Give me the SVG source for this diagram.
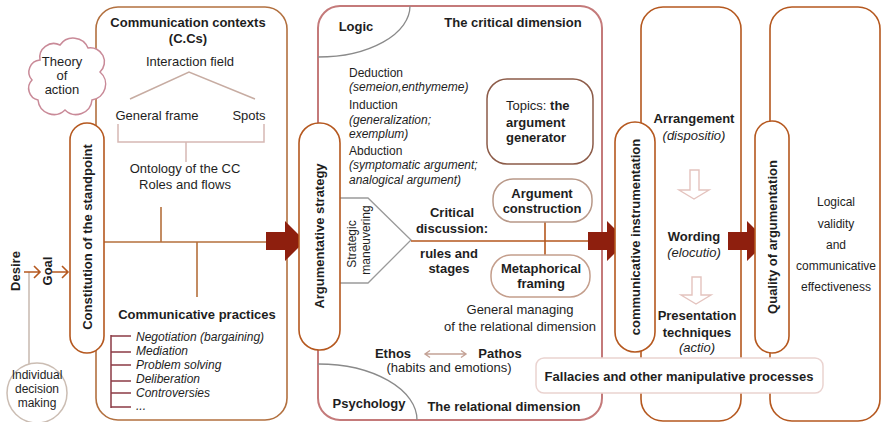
<svg xmlns="http://www.w3.org/2000/svg" width="882" height="422" viewBox="0 0 882 422">
  <style>
    text { font-family: "Liberation Sans", Arial, sans-serif; fill: #1e1e1e; font-size: 13px; }
    .b { font-weight: bold; }
    .i { font-style: italic; }
    .sm { font-size: 12px; }
    .m { text-anchor: middle; }
    .frame { fill: #fff; stroke: #b5581f; stroke-width: 1.6; }
    .pill { fill: #fff; stroke: #b5581f; stroke-width: 1.6; }
    .link { fill: none; stroke: #b5581f; stroke-width: 1.6; }
    .big { fill: #8e1f0e; }
    .hollow { fill: #fff; stroke: #e4c3be; stroke-width: 1.4; }
    .soft { fill: none; stroke: #c7aca2; stroke-width: 1.5; }
  </style>

  <!-- large column frames -->
  <g id="contexts-frame">
    <rect x="96" y="7" width="191" height="413" rx="22" fill="#fff" stroke="#b2703f" stroke-width="1.6"/>
  </g>
  <g id="critical-frame">
    <rect x="318" y="6" width="284" height="414" rx="22" fill="#fff" stroke="#c47a7a" stroke-width="2"/>
    <path d="M318,57 A92,51 0 0 0 410,6" fill="none" stroke="#8a8a8a" stroke-width="1.3"/>
    <path d="M318,364 A99,56 0 0 1 417,420" fill="none" stroke="#8a8a8a" stroke-width="1.3"/>
  </g>
  <g id="instrument-frame">
    <rect x="641" y="7" width="100" height="414" rx="22" class="frame"/>
  </g>
  <g id="quality-frame">
    <rect x="770" y="7" width="110" height="414" rx="22" class="frame"/>
  </g>

  <!-- connectors -->
  <g id="connectors">
    <!-- interaction field tree -->
    <path d="M130,99 L189,72 L255,99" class="soft"/>
    <path d="M118,124 V142 H264 V124 M186,142 V162" fill="none" stroke="#d6b8b4" stroke-width="1.5"/>
    <!-- contexts spine -->
    <path d="M104,242 H270 M161,207 V242 M197,242 V297" fill="none" stroke="#b5703c" stroke-width="1.6"/>
    <!-- practices list -->
    <path d="M111,335 V408 M111,336 H131 M111,352 H131 M111,365 H131 M111,381 H131 M111,393 H131 M111,407 H131" fill="none" stroke="#8c3b46" stroke-width="1.5"/>
    <!-- desire / goal arrows -->
    <path d="M29,272 V364" fill="none" stroke="#c7b9af" stroke-width="1.5"/>
    <path d="M24,272 H40 M34,266 L40,272 L34,278" class="link"/>
    <path d="M52,272 H68 M62,266 L68,272 L62,278" class="link"/>
    <!-- strategic maneuvering wedge -->
    <polyline points="340,198 368,198 411,240 368,283 340,283" fill="none" stroke="#9a9a9a" stroke-width="1.3"/>
    <!-- critical discussion spine -->
    <path d="M411,241 H592 M545,222 V255" class="link"/>
    <!-- ethos / pathos -->
    <path d="M425,354 H466 M430,350.5 L425,354 L430,357.5 M461,350.5 L466,354 L461,357.5" fill="none" stroke="#c4a296" stroke-width="1.4"/>
    <!-- canon steps -->
    <polygon points="690,170 699,170 699,190 709,190 694,199 679,190 690,190" class="hollow"/>
    <polygon points="692,277 701,277 701,295 711,295 696,304 681,295 692,295" class="hollow"/>
    <!-- main flow arrows -->
    <path d="M266,232 H285 V221 L305,241 L285,261 V250 H266 Z" class="big"/>
    <path d="M588,232 H607 V221 L627,241 L607,261 V250 H588 Z" class="big"/>
    <path d="M728,232 H747 V221 L767,241 L747,261 V250 H728 Z" class="big"/>
  </g>

  <!-- nodes -->
  <g id="theory-of-action">
    <path d="M40,60 A14,14 0 0 1 60,45 A16,16 0 0 1 88,48 A14,14 0 0 1 100,72 A16,16 0 0 1 92,100 A16,16 0 0 1 65,110 A16,16 0 0 1 38,100 A12,12 0 0 1 32,80 A12,12 0 0 1 40,60 Z" fill="#fff" stroke="#c98a98" stroke-width="1.5"/>
    <text x="62" y="66" class="m">Theory</text>
    <text x="62" y="80" class="m">of</text>
    <text x="62" y="94" class="m">action</text>
  </g>

  <g id="individual-decision">
    <circle cx="37" cy="393" r="30" fill="#fff" stroke="#cbbdb3" stroke-width="1.5"/>
    <text x="37" y="379" class="m sm">Individual</text>
    <text x="37" y="393" class="m sm">decision</text>
    <text x="37" y="407" class="m sm">making</text>
  </g>

  <g id="desire">
    <text class="b m" transform="translate(15,271) rotate(-90)" dy="0.35em">Desire</text>
  </g>
  <g id="goal">
    <text class="b m" transform="translate(47,271) rotate(-90)" dy="0.35em">Goal</text>
  </g>

  <g id="standpoint">
    <rect x="70" y="123" width="34" height="230" rx="17" class="pill"/>
    <text class="b m" transform="translate(87,237) rotate(-90)" dy="0.35em">Constitution of the standpoint</text>
  </g>

  <g id="communication-contexts">
    <text x="188" y="27" class="b m">Communication contexts</text>
    <text x="188" y="43" class="b m">(C.Cs)</text>
    <text x="190" y="66" class="m">Interaction field</text>
    <text x="157" y="120" class="m">General frame</text>
    <text x="249" y="120" class="m">Spots</text>
    <text x="185" y="173" class="m">Ontology of the CC</text>
    <text x="185" y="189" class="m">Roles and flows</text>
  </g>

  <g id="communicative-practices">
    <text x="197" y="319" class="b m">Communicative practices</text>
    <text x="136" y="341" class="i sm">Negotiation (bargaining)</text>
    <text x="136" y="355" class="i sm">Mediation</text>
    <text x="136" y="369" class="i sm">Problem solving</text>
    <text x="136" y="383" class="i sm">Deliberation</text>
    <text x="136" y="397" class="i sm">Controversies</text>
    <text x="136" y="410" class="i sm">...</text>
  </g>

  <g id="argumentative-strategy">
    <rect x="299" y="123" width="41" height="227" rx="20" class="pill"/>
    <text class="b m" transform="translate(319,236) rotate(-90)" dy="0.35em">Argumentative strategy</text>
  </g>

  <g id="strategic-maneuvering">
    <text class="m sm" transform="translate(352,244) rotate(-90)" dy="0.35em">Strategic</text>
    <text class="m sm" transform="translate(366,240) rotate(-90)" dy="0.35em">maneuvering</text>
  </g>

  <g id="logic">
    <text x="356" y="31" class="b m">Logic</text>
    <text x="513" y="27" class="b m">The critical dimension</text>
    <text x="349" y="77" class="sm">Deduction</text>
    <text x="349" y="91" class="i sm">(semeion,enthymeme)</text>
    <text x="349" y="109" class="sm">Induction</text>
    <text x="349" y="124" class="i sm">(generalization;</text>
    <text x="349" y="138" class="i sm">exemplum)</text>
    <text x="349" y="155" class="sm">Abduction</text>
    <text x="349" y="169" class="i sm">(symptomatic argument;</text>
    <text x="349" y="184" class="i sm">analogical argument)</text>
  </g>

  <g id="topics">
    <rect x="487" y="79" width="106" height="85" rx="20" fill="#fff" stroke="#8c5b48" stroke-width="1.5"/>
    <text x="506" y="110">Topics: <tspan class="b">the</tspan></text>
    <text x="506" y="127" class="b">argument</text>
    <text x="506" y="142" class="b">generator</text>
  </g>

  <g id="argument-construction">
    <rect x="493" y="179" width="99" height="43" rx="20" fill="#fff" stroke="#b89888" stroke-width="1.5"/>
    <text x="542" y="198" class="b m">Argument</text>
    <text x="542" y="213" class="b m">construction</text>
  </g>

  <g id="critical-discussion">
    <text x="452" y="217" class="b m">Critical</text>
    <text x="452" y="233" class="b m">discussion:</text>
    <text x="449" y="258" class="b m">rules and</text>
    <text x="449" y="273" class="b m">stages</text>
  </g>

  <g id="metaphorical-framing">
    <rect x="491" y="255" width="99" height="42" rx="20" fill="#fff" stroke="#c49e8c" stroke-width="1.5"/>
    <text x="541" y="273" class="b m">Metaphorical</text>
    <text x="541" y="288" class="b m">framing</text>
  </g>

  <g id="relational">
    <text x="520" y="314" class="m">General managing</text>
    <text x="520" y="331" class="m">of the relational dimension</text>
    <text x="393" y="358" class="b m">Ethos</text>
    <text x="500" y="358" class="b m">Pathos</text>
    <text x="449" y="372" class="m">(habits and emotions)</text>
    <text x="369" y="408" class="b m">Psychology</text>
    <text x="504" y="411" class="b m">The relational dimension</text>
  </g>

  <g id="communicative-instrumentation">
    <rect x="615" y="122" width="40" height="230" rx="20" class="pill"/>
    <text class="b m" transform="translate(635,237) rotate(-90)" dy="0.35em">communicative instrumentation</text>
  </g>

  <g id="canons">
    <text x="694" y="123" class="b m">Arrangement</text>
    <text x="694" y="140" class="i m">(dispositio)</text>
    <text x="694" y="241" class="b m">Wording</text>
    <text x="694" y="257" class="i m">(elocutio)</text>
    <text x="697" y="320" class="b m">Presentation</text>
    <text x="697" y="337" class="b m">techniques</text>
    <text x="697" y="352" class="i m">(actio)</text>
  </g>

  <g id="quality-of-argumentation">
    <rect x="755" y="121" width="34" height="232" rx="17" class="pill"/>
    <text class="b m" transform="translate(772,237) rotate(-90)" dy="0.35em">Quality of argumentation</text>
  </g>

  <g id="validity">
    <text x="836" y="206" class="m sm">Logical</text>
    <text x="836" y="228" class="m sm">validity</text>
    <text x="836" y="249" class="m sm">and</text>
    <text x="836" y="270" class="m sm">communicative</text>
    <text x="836" y="291" class="m sm">effectiveness</text>
  </g>

  <g id="fallacies">
    <rect x="536" y="358" width="287" height="35" rx="8" fill="#fff" stroke="#ead3d0" stroke-width="1.5"/>
    <text x="679" y="381" class="b m">Fallacies and other manipulative processes</text>
  </g>
</svg>
